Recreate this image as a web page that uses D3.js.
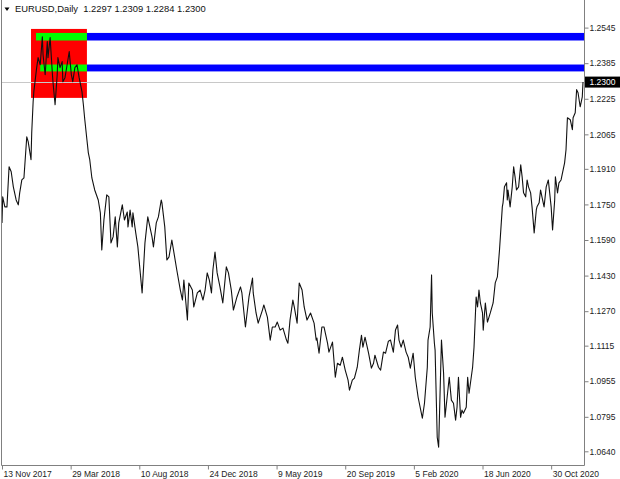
<!DOCTYPE html>
<html>
<head>
<meta charset="utf-8">
<script src="https://d3js.org/d3.v7.min.js"></script>
<style>
  html, body { margin: 0; padding: 0; background: #fff; }
  svg { display: block; font-family: "Liberation Sans", Arial, sans-serif; }
</style>
</head>
<body>
<svg id="chart" width="620" height="479"></svg>
<script>
// ---- data ----
const symbolTitle = "EURUSD,Daily  1.2297 1.2309 1.2284 1.2300";
const lastClose = 1.2300;

// trading-day number counted from 13 Nov 2017
const barIndex = [0,1,4,7,10,13,16,20,23,25,28,31,35,37,41,42,44,45,49,51,54,57,58,61,64,65,68,71,72,75,78,79,82,85,86,89,92,95,98,100,103,106,109,113,115,117,120,122,124,127,131,136,139,141,144,148,151,154,157,160,163,165,170,173,177,178,181,184,185,189,192,198,202,206,212,214,218,221,225,226,230,233,236,240,243,247,252,255,257,262,264,269,271,276,280,284,287,290,293,296,298,301,304,308,312,317,320,324,327,332,337,339,344,348,349,354,355,359,362,368,370,375,379,382,386,389,393,397,402,404,407,411,413,417,420,424,427,431,436,441,444,445,448,452,455,460,462,467,471,474,478,481,485,489,491,495,498,502,505,508,510,513,518,522,525,527,532,535,539,542,546,549,553,556,559,561,564,567,571,574,577,581,584,588,594,597,601,602,605,607,608,611,612,615,617,621,624,626,629,632,635,638,641,643,645,648,650,652,656,658,660,665,667,670,672,674,676,679,680,683,686,690,694,697,700,703,707,708,710,713,714,715,718,721,723,725,727,730,733,735,737,740,742,744,747,749,752,755,756,759,761,763,766,769,772,773,776,778,781,782,785,787,790,795,797,799,803,806,807,810,812,814,817,820,821];

const closes = [1.1667,1.1784,1.1739,1.1739,1.1919,1.1897,1.1829,1.1770,1.1748,1.1802,1.1860,1.1869,1.2054,1.2032,1.1951,1.2072,1.2212,1.2257,1.2365,1.2410,1.2378,1.2504,1.2423,1.2333,1.2482,1.2410,1.2500,1.2347,1.2302,1.2198,1.2333,1.2410,1.2365,1.2392,1.2302,1.2320,1.2378,1.2437,1.2333,1.2302,1.2365,1.2378,1.2320,1.2257,1.2198,1.2131,1.2041,1.1982,1.1951,1.1869,1.1815,1.1770,1.1712,1.1545,1.1680,1.1793,1.1784,1.1577,1.1604,1.1694,1.1559,1.1667,1.1748,1.1680,1.1716,1.1649,1.1725,1.1649,1.1712,1.1622,1.1559,1.1352,1.1577,1.1694,1.1604,1.1559,1.1667,1.1694,1.1770,1.1757,1.1649,1.1500,1.1514,1.1590,1.1532,1.1455,1.1365,1.1320,1.1410,1.1230,1.1397,1.1365,1.1289,1.1352,1.1365,1.1320,1.1365,1.1442,1.1410,1.1352,1.1455,1.1536,1.1442,1.1379,1.1307,1.1469,1.1442,1.1365,1.1275,1.1334,1.1379,1.1352,1.1199,1.1307,1.1334,1.1419,1.1352,1.1262,1.1216,1.1275,1.1298,1.1243,1.1140,1.1199,1.1199,1.1221,1.1185,1.1194,1.1140,1.1126,1.1230,1.1320,1.1289,1.1216,1.1397,1.1365,1.1289,1.1230,1.1262,1.1216,1.1140,1.1149,1.1081,1.1199,1.1199,1.1126,1.1086,1.1131,1.0973,1.1036,1.1027,1.1063,1.1005,1.0960,1.0915,1.0960,1.0969,1.1018,1.1095,1.1162,1.1108,1.1153,1.1081,1.1014,1.1036,1.1072,1.1018,1.1005,1.1086,1.1081,1.1135,1.1140,1.1086,1.1185,1.1208,1.1140,1.1108,1.1140,1.1086,1.1063,1.1014,1.1081,1.0973,1.0883,1.0789,1.0856,1.1018,1.1140,1.1199,1.1433,1.1262,1.1126,1.1095,1.0703,1.0658,1.1140,1.0991,1.0793,1.0883,1.0973,1.0870,1.0856,1.0780,1.0838,1.0973,1.0793,1.0825,1.0811,1.0838,1.0973,1.0901,1.1018,1.1108,1.1334,1.1289,1.1365,1.1307,1.1262,1.1185,1.1307,1.1221,1.1262,1.1307,1.1397,1.1424,1.1545,1.1739,1.1757,1.1829,1.1847,1.1770,1.1815,1.1739,1.1829,1.1919,1.1874,1.1815,1.1829,1.1928,1.1874,1.1802,1.1784,1.1860,1.1829,1.1802,1.1739,1.1622,1.1725,1.1739,1.1757,1.1815,1.1784,1.1739,1.1829,1.1860,1.1829,1.1739,1.1635,1.1770,1.1874,1.1802,1.1847,1.1860,1.1937,1.1996,1.2140,1.2131,1.2086,1.2140,1.2162,1.2266,1.2252,1.2189,1.2234,1.2300];

const dateLabels = ["13 Nov 2017","29 Mar 2018","10 Aug 2018","24 Dec 2018","9 May 2019","20 Sep 2019","5 Feb 2020","18 Jun 2020","30 Oct 2020"];
const dateLabelBars = [0,97,194,291,388,485,582,679,776];

const priceTicks = [1.2545,1.2385,1.2225,1.2065,1.1910,1.1750,1.1590,1.1430,1.1270,1.1115,1.0955,1.0795,1.0640];

// drawn objects: [startBar, endBar, lowPrice, highPrice]
const redBox = [41, 120, 1.2229, 1.2539];
const greenZones = [[48, 120, 1.2487, 1.2521], [54, 120, 1.2348, 1.2379]];
const blueZones = [[120, 821, 1.2487, 1.2521], [120, 821, 1.2348, 1.2379]];

// ---- layout ----
const W = 620, H = 479;
const plotLeft = 1.5, plotRight = 584.5, plotBottom = 465.5;

const svg = d3.select("#chart");
const x = d3.scaleLinear().domain([0, 821]).range([2, 583]);
const y = d3.scaleLinear().domain([1.0640, 1.2545]).range([451.3, 27.6]);

const plot = svg.append("g");
plot.append("clipPath").attr("id", "clip")
  .append("rect").attr("x", plotLeft).attr("y", 0)
  .attr("width", plotRight - plotLeft).attr("height", plotBottom);

const objs = plot.append("g").attr("clip-path", "url(#clip)");

// red rectangle
objs.append("rect")
  .attr("x", x(redBox[0])).attr("y", y(redBox[3]))
  .attr("width", x(redBox[1]) - x(redBox[0]))
  .attr("height", y(redBox[2]) - y(redBox[3]))
  .attr("fill", "#ff0000");

// blue zones extending right
objs.selectAll(".blue").data(blueZones).join("rect")
  .attr("x", d => x(d[0])).attr("y", d => y(d[3]))
  .attr("width", d => plotRight - x(d[0]) + 2)
  .attr("height", d => y(d[2]) - y(d[3]))
  .attr("fill", "#0000ff");

// green zones
objs.selectAll(".green").data(greenZones).join("rect")
  .attr("x", d => x(d[0])).attr("y", d => y(d[3]))
  .attr("width", d => x(d[1]) - x(d[0]))
  .attr("height", d => y(d[2]) - y(d[3]))
  .attr("fill", "#00ff00");

// bid line
objs.append("line")
  .attr("x1", plotLeft).attr("x2", plotRight)
  .attr("y1", Math.round(y(lastClose)) + 0.5).attr("y2", Math.round(y(lastClose)) + 0.5)
  .attr("stroke", "#c8c8c8").attr("stroke-width", 1);

// price line
const series = barIndex.map((b, i) => [b, closes[i]]);
objs.append("path")
  .datum(series)
  .attr("fill", "none")
  .attr("stroke", "#111")
  .attr("stroke-width", 1.1)
  .attr("stroke-linejoin", "round")
  .attr("d", d3.line().x(d => x(d[0])).y(d => y(d[1])));

// frame
plot.append("path")
  .attr("d", `M${plotLeft},0 V${plotBottom} H${plotRight} V0`)
  .attr("fill", "none").attr("stroke", "#808080").attr("stroke-width", 1);

// right axis
const yAxis = d3.axisRight(y).tickValues(priceTicks).tickSize(4).tickPadding(1)
  .tickFormat(d3.format(".4f"));
const ya = svg.append("g").attr("transform", `translate(${plotRight},0)`).call(yAxis);
ya.select(".domain").remove();
ya.selectAll(".tick line").attr("stroke", "#808080");
ya.selectAll(".tick text").attr("fill", "#222").style("font-size", "8.5px")
  .style("font-family", "'Liberation Sans', Arial, sans-serif");

// bottom axis
const xAxis = d3.axisBottom(x).tickValues(dateLabelBars).tickSize(4)
  .tickFormat((d, i) => dateLabels[i]);
const xa = svg.append("g").attr("transform", `translate(0,${plotBottom})`).call(xAxis);
xa.select(".domain").remove();
xa.selectAll(".tick line").attr("stroke", "#808080");
xa.selectAll(".tick text").attr("fill", "#222").style("font-size", "8.5px")
  .style("font-family", "'Liberation Sans', Arial, sans-serif")
  .attr("text-anchor", "start").attr("x", 1).attr("y", 11).attr("dy", 0);

// current price box
const cy = y(lastClose);
svg.append("rect").attr("x", plotRight + 0.5).attr("y", cy - 5.5)
  .attr("width", W - plotRight).attr("height", 11).attr("fill", "#000");
svg.append("text").attr("x", plotRight + 5).attr("y", cy).attr("dy", "0.35em")
  .attr("fill", "#fff").style("font-size", "8.5px").text(d3.format(".4f")(lastClose));

// header
svg.append("path").attr("d", "M4.5,7.5 L9.5,7.5 L7,11 Z").attr("fill", "#000");
svg.append("text").attr("x", 15).attr("y", 12).attr("fill", "#111")
  .style("font-size", "9.4px").attr("xml:space", "preserve")
  .style("white-space", "pre").text(symbolTitle);
</script>
</body>
</html>
